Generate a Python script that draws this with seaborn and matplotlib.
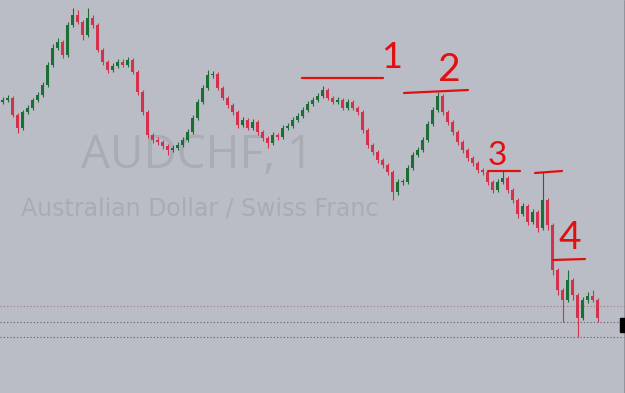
import matplotlib
matplotlib.use("Agg")
import matplotlib.pyplot as plt
import seaborn as sns
import pandas as pd

# ---- data (price in chart points) ----
first_open = 298
closes = [300, 302, 285, 272, 288, 292, 300, 305, 315, 335,
          352, 358, 345, 375, 385, 378, 365, 382, 375, 350,
          338, 330, 334, 338, 335, 340, 328, 308, 288, 265,
          260, 258, 254, 250, 252, 255, 260, 268, 282, 298,
          312, 325, 326, 312, 302, 295, 288, 275, 280, 272,
          278, 268, 262, 257, 265, 263, 272, 274, 280, 284,
          290, 296, 300, 304, 310, 302, 298, 300, 292, 298,
          292, 288, 270, 255, 248, 240, 235, 228, 208, 218,
          218, 232, 245, 250, 260, 276, 290, 304, 288, 278,
          268, 258, 250, 242, 237, 230, 228, 218, 210, 218,
          222, 210, 200, 186, 194, 178, 188, 172, 200, 175,
          130, 110, 100, 120, 105, 82, 100, 104, 100, 82]
highs = [303, 305, 304, 287, 290, 295, 302, 308, 318, 338,
         356, 362, 360, 378, 392, 390, 380, 392, 385, 377,
         352, 340, 337, 341, 341, 343, 342, 330, 310, 290,
         267, 263, 260, 256, 255, 258, 263, 271, 285, 301,
         315, 330, 329, 328, 314, 304, 297, 290, 283, 282,
         281, 280, 270, 264, 268, 267, 275, 277, 283, 287,
         293, 299, 303, 307, 314, 312, 304, 303, 302, 301,
         300, 294, 290, 272, 257, 250, 242, 237, 230, 221,
         221, 235, 248, 253, 263, 279, 293, 308, 306, 290,
         280, 270, 260, 252, 244, 239, 232, 230, 220, 221,
         230, 224, 212, 202, 197, 196, 191, 190, 228, 202,
         177, 132, 112, 130, 122, 107, 103, 108, 110, 102]
lows = [296, 298, 283, 267, 270, 286, 290, 298, 303, 313,
        333, 350, 342, 343, 373, 376, 360, 363, 372, 348,
        335, 327, 328, 332, 333, 333, 326, 305, 285, 262,
        257, 255, 251, 245, 248, 250, 253, 258, 266, 280,
        296, 310, 322, 310, 300, 292, 285, 272, 273, 270,
        270, 265, 259, 252, 255, 260, 261, 270, 272, 278,
        282, 288, 294, 298, 302, 300, 296, 296, 290, 290,
        290, 285, 267, 252, 245, 237, 232, 225, 200, 205,
        215, 216, 230, 243, 248, 258, 274, 288, 285, 275,
        265, 255, 247, 239, 234, 227, 225, 215, 207, 208,
        216, 207, 197, 182, 184, 175, 176, 168, 170, 170,
        125, 105, 78, 98, 100, 63, 80, 97, 98, 78]
levels = [94, 78, 63]
level_colors = ["#a07c80", "#5a5e66", "#5a5e66"]

opens = [first_open] + closes[:-1]
df = pd.DataFrame({"idx": range(len(closes)), "open": opens, "close": closes,
                   "high": highs, "low": lows})
df["up"] = df["close"] >= df["open"]

BG = "#babdc5"
GREEN = "#1d6e35"
RED = "#d4324c"
PEN = "#e01010"

sns.set_theme(style="white")
fig = plt.figure(figsize=(6.25, 3.93), dpi=100)
fig.patch.set_facecolor(BG)
ax = fig.add_axes([0, 0, 1, 1])
ax.set_facecolor(BG)

# watermark
ax.text(39, 244, "AUDCHF, 1", fontsize=33, color="#a9acb4", ha="center",
        va="center", zorder=0, family="Open Sans")
ax.text(39.5, 192, "Australian Dollar / Swiss Franc", fontsize=17,
        color="#a9acb4", ha="center", va="center", zorder=0)

# levels
for lv, lc in zip(levels, level_colors):
    ax.axhline(lv, color=lc, lw=0.8, linestyle=(0, (1, 2)), zorder=1)

colors = [GREEN if u else RED for u in df["up"]]
ax.vlines(df["idx"], df["low"], df["high"], colors=colors, lw=0.8, zorder=2)
bottoms = df[["open", "close"]].min(axis=1)
heights = (df["close"] - df["open"]).abs().clip(lower=1)
ax.bar(df["idx"], heights, bottom=bottoms, width=0.5, color=colors,
       linewidth=0, zorder=3)

# hand-drawn annotations
ax.plot([59.9, 76.1], [322, 322], color=PEN, lw=1.6, zorder=4)
ax.plot([80.3, 93.1], [307, 310], color=PEN, lw=1.6, zorder=4)
ax.plot([97.1, 103.5], [229, 229], color=PEN, lw=1.6, zorder=4)
ax.plot([106.5, 111.9], [227, 229], color=PEN, lw=1.6, zorder=4)
ax.plot([110.1, 116.5], [140, 141], color=PEN, lw=1.6, zorder=4)
ax.text(77.9, 343, "1", color=PEN, fontsize=26, ha="center", va="center",
        zorder=4, family="Lato")
ax.text(89.1, 330, "2", color=PEN, fontsize=28, ha="center", va="center",
        zorder=4, family="Lato")
ax.text(98.9, 244, "3", color=PEN, fontsize=24, ha="center", va="center",
        zorder=4, family="Lato")
ax.text(113.5, 162, "4", color=PEN, fontsize=28, ha="center", va="center",
        zorder=4, family="Lato")

# current price marker
ax.axvline(124.3, color="#8a8e96", lw=0.6)
ax.add_patch(plt.Rectangle((123.5, 68), 1.2, 14, color="black", zorder=5,
                           clip_on=False))

ax.set_xlim(-0.5, 124.5)
ax.set_ylim(7, 400)
ax.axis("off")
fig.savefig("out.png", dpi=100, facecolor=BG)
